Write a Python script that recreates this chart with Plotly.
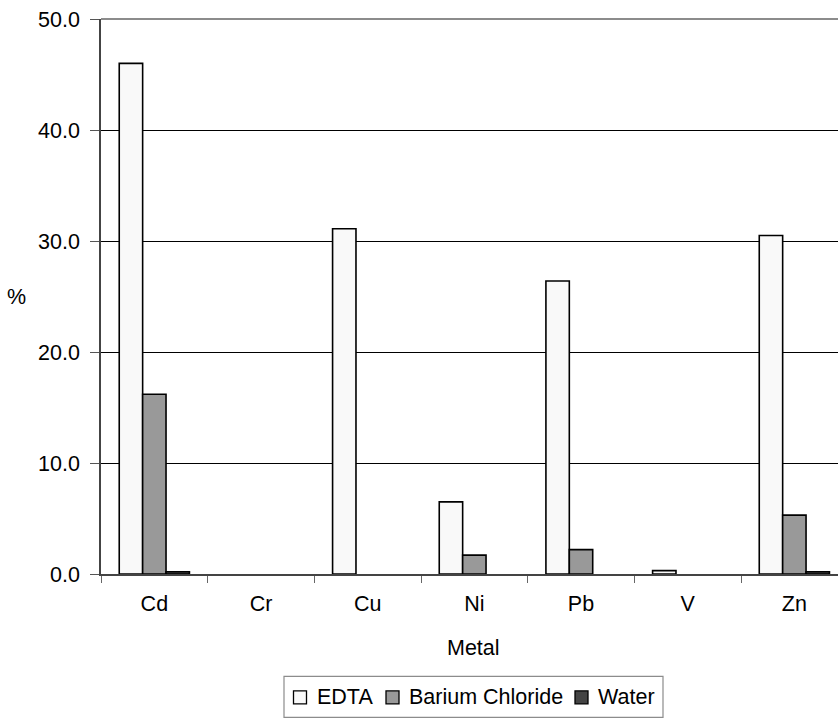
import plotly.graph_objects as go

# Extraction of metals by reagent (% of total)
metals = ["Cd", "Cr", "Cu", "Ni", "Pb", "V", "Zn"]
edta = [46.0, 0.0, 31.1, 6.5, 26.4, 0.3, 30.5]
barium_chloride = [16.2, 0.0, 0.0, 1.7, 2.2, 0.0, 5.3]
water = [0.2, 0.0, 0.0, 0.0, 0.0, 0.0, 0.2]

series_names = ["EDTA", "Barium Chloride", "Water"]
series_values = [edta, barium_chloride, water]
series_colors = ["#f9f9f9", "#999999", "#444444"]

y_ticks = [0, 10, 20, 30, 40, 50]

# page geometry (pixels)
W, H = 838, 720
L, R = 101, 0
T, B = 19, 574.5
CAT_PX = 106.67  # width of one category slot

FONT = "Liberation Sans, Arial, sans-serif"
FS = 21.5


def px_x(p):
    return (p - L) / (W - L - R)


def px_y(p):
    return (B - p) / (B - T)


fig = go.Figure()
for name, vals, col in zip(series_names, series_values, series_colors):
    # empty (zero) results are left undrawn rather than outlined on the baseline
    shown = [v if v > 0 else None for v in vals]
    fig.add_trace(go.Bar(
        x=metals, y=shown, name=name,
        marker=dict(color=col, line=dict(color="#000000", width=1.6)),
        showlegend=False,
    ))

x_hi = -0.5 + (W - L - R) / CAT_PX

fig.update_layout(
    width=W, height=H,
    margin=dict(l=L, r=R, t=T, b=H - B, autoexpand=False),
    paper_bgcolor="white", plot_bgcolor="white",
    barmode="group", bargap=0.342, bargroupgap=0.0,
    font=dict(family=FONT, size=FS, color="#000000"),
    xaxis=dict(
        type="category", range=[-0.5, x_hi], autorange=False,
        showline=True, linecolor="#444444", linewidth=1.5,
        ticks="outside", tickson="boundaries", ticklen=7,
        tickcolor="#666666", tickwidth=1.2,
        showgrid=False, zeroline=False,
        tickfont=dict(family=FONT, size=FS, color="#000000"),
        ticklabelstandoff=9,
    ),
    yaxis=dict(
        range=[0, 50], autorange=False,
        tickvals=y_ticks, tickformat=".1f",
        showgrid=True, gridcolor="#000000", gridwidth=1,
        ticks="outside", ticklen=9, tickcolor="#555555", tickwidth=1.2,
        showline=True, linecolor="#444444", linewidth=1.5,
        zeroline=False,
        tickfont=dict(family=FONT, size=FS, color="#000000"),
        ticklabelstandoff=6,
    ),
)

# grey frame line along the top of the plot area
fig.add_shape(type="line", xref="paper", yref="paper",
              x0=0, x1=1, y0=1, y1=1,
              line=dict(color="#8c8c8c", width=2), layer="above")

# axis titles
fig.add_annotation(text="%", xref="paper", yref="paper",
                   x=px_x(16), y=px_y(297), showarrow=False,
                   xanchor="center", yanchor="middle",
                   font=dict(family=FONT, size=FS))
fig.add_annotation(text="Metal", xref="paper", yref="paper",
                   x=px_x(473.5), y=px_y(649), showarrow=False,
                   xanchor="center", yanchor="middle",
                   font=dict(family=FONT, size=FS))

# legend: framed box with square swatches, centred under the category axis
box_x0, box_x1 = 284, 663
box_y0, box_y1 = 677, 718
fig.add_shape(type="rect", xref="paper", yref="paper",
              x0=px_x(box_x0), x1=px_x(box_x1),
              y0=px_y(box_y1), y1=px_y(box_y0),
              line=dict(color="#8c8c8c", width=1.2),
              fillcolor="white", layer="above")

swatch_left = [293.5, 386, 575]
sw = 13
legend_cy = 698
for name, col, sx in zip(series_names, series_colors, swatch_left):
    fig.add_shape(type="rect", xref="paper", yref="paper",
                  x0=px_x(sx), x1=px_x(sx + sw),
                  y0=px_y(legend_cy + sw / 2), y1=px_y(legend_cy - sw / 2),
                  line=dict(color="#000000", width=1.3),
                  fillcolor=col, layer="above")
    fig.add_annotation(text=name, xref="paper", yref="paper",
                       x=px_x(sx + sw + 9), y=px_y(legend_cy),
                       showarrow=False, xanchor="left", yanchor="middle",
                       xshift=-1,
                       font=dict(family=FONT, size=FS))

fig.write_html("out.html")
